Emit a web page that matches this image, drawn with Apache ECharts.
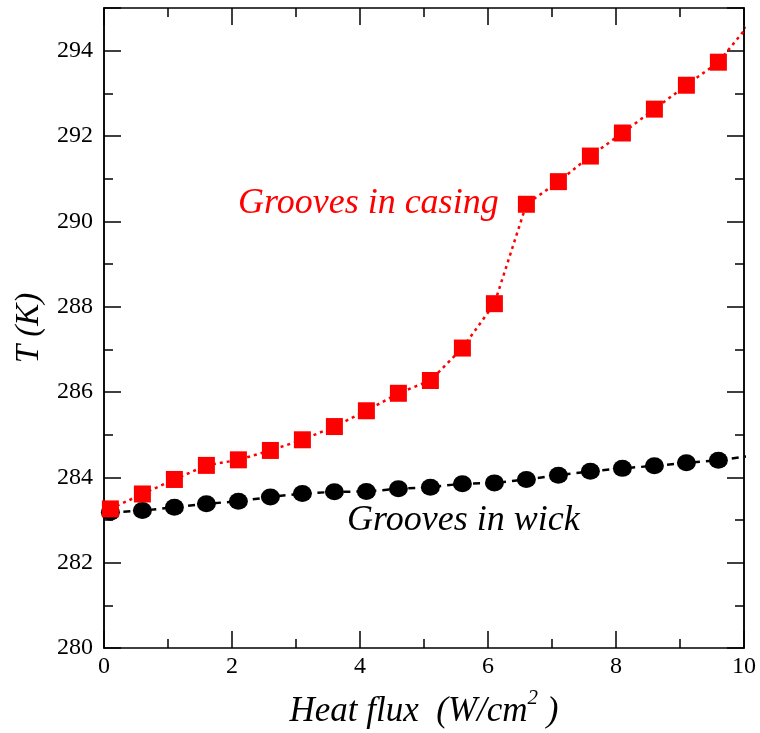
<!DOCTYPE html>
<html>
<head>
<meta charset="utf-8">
<script src="https://cdn.jsdelivr.net/npm/echarts@6/dist/echarts.min.js"></script>
<style>
html,body{margin:0;padding:0;background:#fff;}
#chart{width:760px;height:733px;}
</style>
</head>
<body>
<div id="chart"></div>
<script>
// Heat flux values (W/cm^2)
const heatFlux = [0.1, 0.6, 1.1, 1.6, 2.1, 2.6, 3.1, 3.6, 4.1, 4.6, 5.1, 5.6, 6.1, 6.6, 7.1, 7.6, 8.1, 8.6, 9.1, 9.6, 10.1];
// Temperature T (K), grooves in casing
const groovesCasing = [283.26, 283.61, 283.95, 284.28, 284.41, 284.63, 284.88, 285.19, 285.56, 285.97, 286.27, 287.03, 288.07, 290.40, 290.93, 291.53, 292.07, 292.63, 293.19, 293.73, 294.65];
// Temperature T (K), grooves in wick
const groovesWick = [283.18, 283.22, 283.30, 283.38, 283.44, 283.54, 283.62, 283.66, 283.67, 283.73, 283.77, 283.85, 283.87, 283.95, 284.05, 284.14, 284.21, 284.27, 284.34, 284.40, 284.50];

const xTickLabels = ['0', '2', '4', '6', '8', '10'];
const yTickLabels = ['280', '282', '284', '286', '288', '290', '292', '294'];

const FONT = '"Liberation Serif", "Times New Roman", serif';

const chart = echarts.init(document.getElementById('chart'));

const lineStyle = { color: '#000', width: 1.5 };
function xAx(pos, showLabel) {
  return {
    type: 'value', position: pos, min: 0, max: 10, interval: 2,
    axisLine: { show: true, onZero: false, lineStyle },
    axisTick: { show: true, inside: true, length: 17, lineStyle },
    minorTick: { show: true, splitNumber: 2, length: 9, lineStyle },
    splitLine: { show: false }, minorSplitLine: { show: false },
    axisLabel: showLabel ? {
      show: true, margin: 7, color: '#000', fontFamily: FONT, fontSize: 24,
      formatter: v => xTickLabels.includes(String(v)) ? String(v) : ''
    } : { show: false }
  };
}
function yAx(pos, interval, len, showLabel, name) {
  const a = {
    type: 'value', position: pos, min: 280, max: 295, interval: interval,
    axisLine: { show: true, onZero: false, lineStyle },
    axisTick: { show: true, inside: true, length: len, lineStyle },
    splitLine: { show: false },
    axisLabel: showLabel ? {
      show: true, margin: 11, color: '#000', fontFamily: FONT, fontSize: 24,
      formatter: v => yTickLabels.includes(String(v)) ? String(v) : ''
    } : { show: false }
  };
  if (name) {
    a.name = name;
    a.nameLocation = 'middle';
    a.nameGap = 58;
    a.nameTextStyle = { fontFamily: FONT, fontStyle: 'italic', fontSize: 33, color: '#000' };
  }
  return a;
}

const option = {
  animation: false,
  backgroundColor: '#fff',
  grid: { left: 104, right: 16, top: 8, bottom: 85, containLabel: false, outerBoundsMode: 'none' },
  xAxis: [
    Object.assign(xAx('bottom', true), {
      name: 'Heat flux  (W/cm{sup|2} )',
      nameLocation: 'middle', nameGap: 40,
      nameTextStyle: {
        fontFamily: FONT, fontStyle: 'italic', fontSize: 35, color: '#000', lineHeight: 48,
        rich: { sup: { fontFamily: FONT, fontStyle: 'italic', fontSize: 21, color: '#000', lineHeight: 22, verticalAlign: 'top' } }
      }
    }),
    xAx('top', false)
  ],
  yAxis: [
    yAx('left', 2, 17, true, 'T (K)'),
    yAx('left', 1, 9, false),
    yAx('right', 2, 17, false),
    yAx('right', 1, 9, false)
  ],
  graphic: [
    { type: 'text', x: 238, y: 204, style: { text: 'Grooves in casing', fill: '#ff0000', font: 'italic 36px ' + FONT, align: 'left', verticalAlign: 'middle' } },
    { type: 'text', x: 347, y: 521, style: { text: 'Grooves in wick', fill: '#000', font: 'italic 36px ' + FONT, align: 'left', verticalAlign: 'middle' } }
  ],
  series: [
    {
      type: 'line', xAxisIndex: 0, yAxisIndex: 0, clip: true,
      data: heatFlux.map((x, i) => [x, groovesWick[i]]),
      symbol: 'circle', symbolSize: [19, 17],
      itemStyle: { color: '#000' },
      lineStyle: { color: '#000', width: 2.5, type: [7, 6] }
    },
    {
      type: 'line', xAxisIndex: 0, yAxisIndex: 0, clip: true,
      data: heatFlux.map((x, i) => [x, groovesCasing[i]]),
      symbol: 'rect', symbolSize: 17,
      itemStyle: { color: '#ff0000' },
      lineStyle: { color: '#ff0000', width: 2.5, type: [3, 4] }
    }
  ]
};
chart.setOption(option);
</script>
</body>
</html>
